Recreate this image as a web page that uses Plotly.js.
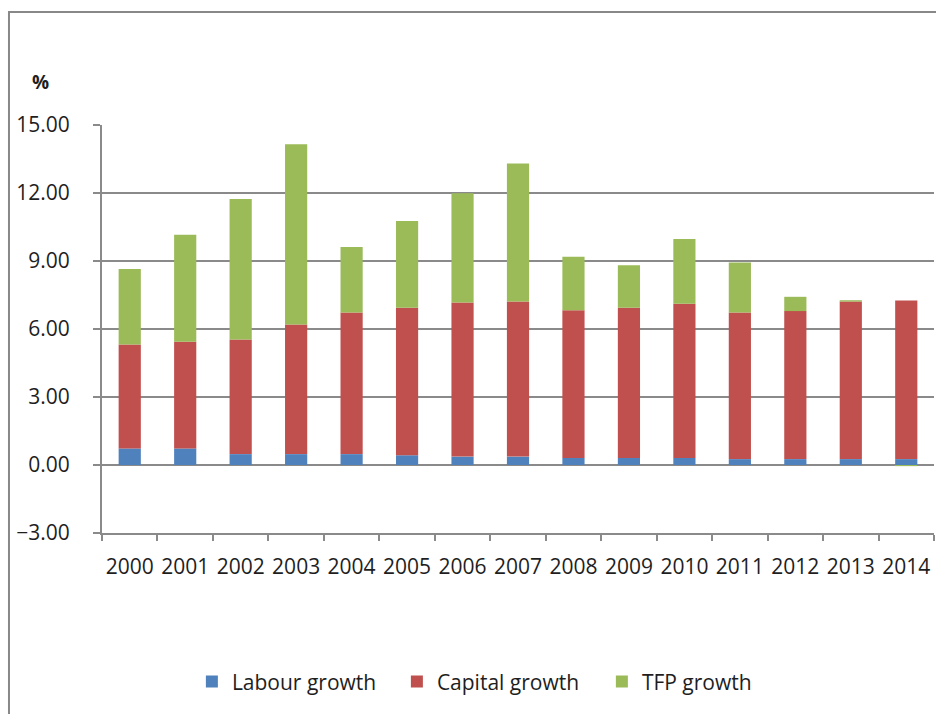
<!DOCTYPE html>
<html>
<head>
<meta charset="utf-8">
<script src="https://cdn.plot.ly/plotly-3.0.1.min.js"></script>
<style>html,body{margin:0;padding:0;background:#fff;}#chart{width:936px;height:714px;}</style>
</head>
<body>
<div id="chart"></div>
<script>
const years = ["2000","2001","2002","2003","2004","2005","2006","2007","2008","2009","2010","2011","2012","2013","2014"];
const labourGrowth  = [0.73, 0.73, 0.48, 0.48, 0.48, 0.43, 0.37, 0.37, 0.31, 0.31, 0.31, 0.26, 0.26, 0.26, 0.26];
const capitalGrowth = [4.59, 4.71, 5.06, 5.72, 6.25, 6.51, 6.80, 6.84, 6.52, 6.63, 6.80, 6.47, 6.53, 6.95, 7.00];
const tfpGrowth     = [3.33, 4.72, 6.19, 7.95, 2.89, 3.82, 4.82, 6.09, 2.36, 1.87, 2.86, 2.20, 0.63, 0.06, -0.05];
const yTicks = [-3, 0, 3, 6, 9, 12, 15];

const FONT = "Open Sans, Liberation Sans, sans-serif";
const GRID = "#8a8a8a";

const traces = [
  {type: "bar", name: "Labour growth", x: years, y: labourGrowth, marker: {color: "#4F81BD"}},
  {type: "bar", name: "Capital growth", x: years, y: capitalGrowth, marker: {color: "#C0504D"}},
  {type: "bar", name: "TFP growth", x: years, y: tfpGrowth, marker: {color: "#9BBB59"}}
];

const layout = {
  width: 936, height: 714,
  margin: {l: 102, r: 2, t: 125, b: 181},
  paper_bgcolor: "#ffffff", plot_bgcolor: "#ffffff",
  barmode: "relative",
  bargap: 0.6,
  font: {family: FONT, size: 21, color: "#1e1e1e"},
  showlegend: true,
  legend: {
    orientation: "h", xref: "container", yref: "container",
    x: 0.205, xanchor: "left", y: 0.045, yanchor: "middle",
    entrywidth: 160, entrywidthmode: "pixels",
    font: {family: FONT, size: 21, color: "#1e1e1e"},
    traceorder: "normal"
  },
  xaxis: {
    type: "category",
    showgrid: false,
    showline: true, linecolor: GRID, linewidth: 2,
    ticks: "outside", tickson: "boundaries", ticklen: 6, tickcolor: GRID, tickwidth: 2,
    tickangle: 0,
    ticklabelstandoff: 14,
    tickfont: {family: FONT, size: 21, color: "#1e1e1e"},
    fixedrange: true
  },
  yaxis: {
    range: [-3, 15],
    tickvals: yTicks,
    tickformat: ".2f",
    showgrid: true, gridcolor: GRID, gridwidth: 2,
    zeroline: false,
    showline: true, linecolor: GRID, linewidth: 2,
    ticks: "outside", ticklen: 7, tickcolor: GRID, tickwidth: 2,
    ticklabelstandoff: 19,
    tickfont: {family: FONT, size: 21, color: "#1e1e1e"},
    fixedrange: true
  },
  shapes: [
    {type: "rect", xref: "paper", yref: "paper", x0: -0.1118, x1: 1.2, y0: -0.7, y1: 1.277,
     line: {color: "#888888", width: 2}, fillcolor: "rgba(0,0,0,0)", layer: "below"}
  ],
  annotations: [
    {text: "<b>%</b>", xref: "paper", yref: "paper", x: -0.074, y: 1.105, xanchor: "center", yanchor: "middle",
     showarrow: false, font: {family: FONT, size: 19, color: "#1e1e1e"}}
  ]
};

Plotly.newPlot("chart", traces, layout, {staticPlot: true, displayModeBar: false});
</script>
</body>
</html>
